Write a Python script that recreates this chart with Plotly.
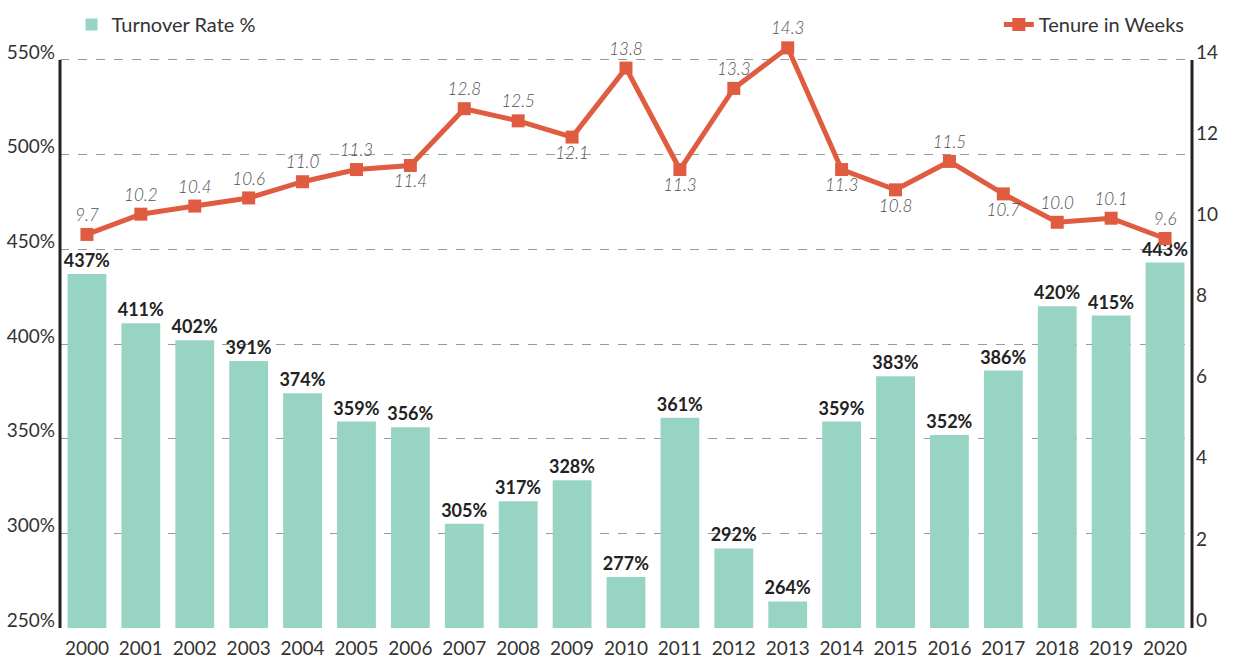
import plotly.graph_objects as go

years = [str(y) for y in range(2000, 2021)]
turnover = [437, 411, 402, 391, 374, 359, 356, 305, 317, 328, 277, 361, 292, 264, 359, 383, 352, 386, 420, 415, 443]
tenure = [9.7, 10.2, 10.4, 10.6, 11.0, 11.3, 11.4, 12.8, 12.5, 12.1, 13.8, 11.3, 13.3, 14.3, 11.3, 10.8, 11.5, 10.7, 10.0, 10.1, 9.6]
tenure_label_pos = ["top center"] * 6 + ["bottom center", "top center", "top center", "bottom center",
                    "top center", "bottom center", "top center", "top center", "bottom center",
                    "bottom center", "top center", "bottom center", "top center", "top center", "top center"]
left_ticks = [250, 300, 350, 400, 450, 500, 550]
right_ticks = [0, 2, 4, 6, 8, 10, 12, 14]

BAR = "#97d4c4"
LINE = "#e05c40"
FONT = "Lato"
AXIS = "#222222"

fig = go.Figure()
fig.add_trace(go.Bar(
    x=years, y=turnover, name="Turnover Rate %",
    marker=dict(color=BAR, line=dict(width=0)),
    text=[f"{v}%" for v in turnover], textposition="outside", constraintext="none",
    textfont=dict(family=FONT, size=18, color="#222222", weight="bold"),
    cliponaxis=False, legend="legend",
))
fig.add_trace(go.Scatter(
    x=years, y=tenure, name="Tenure in Weeks", yaxis="y2",
    mode="lines+markers+text",
    line=dict(color=LINE, width=5),
    marker=dict(symbol="square", size=13, color=LINE),
    text=[f"{v:.1f}" for v in tenure], textposition=tenure_label_pos,
    textfont=dict(family=FONT, size=17, color="#505050", style="italic", weight=300),
    cliponaxis=False, legend="legend2",
))

# axis lines spanning only the tick range (250%..550% / 0..14)
fig.add_shape(type="line", xref="paper", yref="y", x0=0, x1=0, y0=left_ticks[0], y1=left_ticks[-1],
              line=dict(color=AXIS, width=3), layer="above")
fig.add_shape(type="line", xref="paper", yref="y", x0=1, x1=1, y0=left_ticks[0], y1=left_ticks[-1],
              line=dict(color=AXIS, width=3), layer="above")

fig.update_layout(
    width=1233, height=662,
    margin=dict(l=60, r=41, t=40, b=34, autoexpand=False),
    paper_bgcolor="white", plot_bgcolor="white",
    font=dict(family=FONT, color="#333333"),
    bargap=0.28,
    showlegend=True,
    legend=dict(x=0.058, xref="container", y=0.963, yref="container", xanchor="left", yanchor="middle",
                orientation="h", font=dict(size=20, color="#333333", family=FONT),
                bgcolor="rgba(0,0,0,0)"),
    legend2=dict(x=0.965, xref="container", y=0.963, yref="container", xanchor="right", yanchor="middle",
                 orientation="h", font=dict(size=20, color="#333333", family=FONT),
                 bgcolor="rgba(0,0,0,0)"),
    xaxis=dict(showline=False, showgrid=False, ticks="", tickfont=dict(size=19, color="#333333"),
               range=[-0.5, 20.5], ticklabelstandoff=7),
    yaxis=dict(range=[250, 560.56], tickvals=left_ticks, ticktext=[f"{v}%" for v in left_ticks],
               showgrid=True, gridcolor="#9a9a9a", griddash="dash", gridwidth=1,
               showline=False, ticks="", ticklabelshift=-8, ticklabelstandoff=4,
               tickfont=dict(size=19, color="#333333"), zeroline=False),
    yaxis2=dict(range=[0, 14.493], tickvals=right_ticks, ticktext=[str(v) for v in right_ticks],
                overlaying="y", side="right",
                showgrid=False, showline=False, ticks="", ticklabelshift=-8, ticklabelstandoff=3,
                tickfont=dict(size=19, color="#333333"), zeroline=False),
)

fig.write_html("out.html", config={"displayModeBar": False},
               post_script="document.body.style.margin='0';document.body.style.overflow='hidden';")
